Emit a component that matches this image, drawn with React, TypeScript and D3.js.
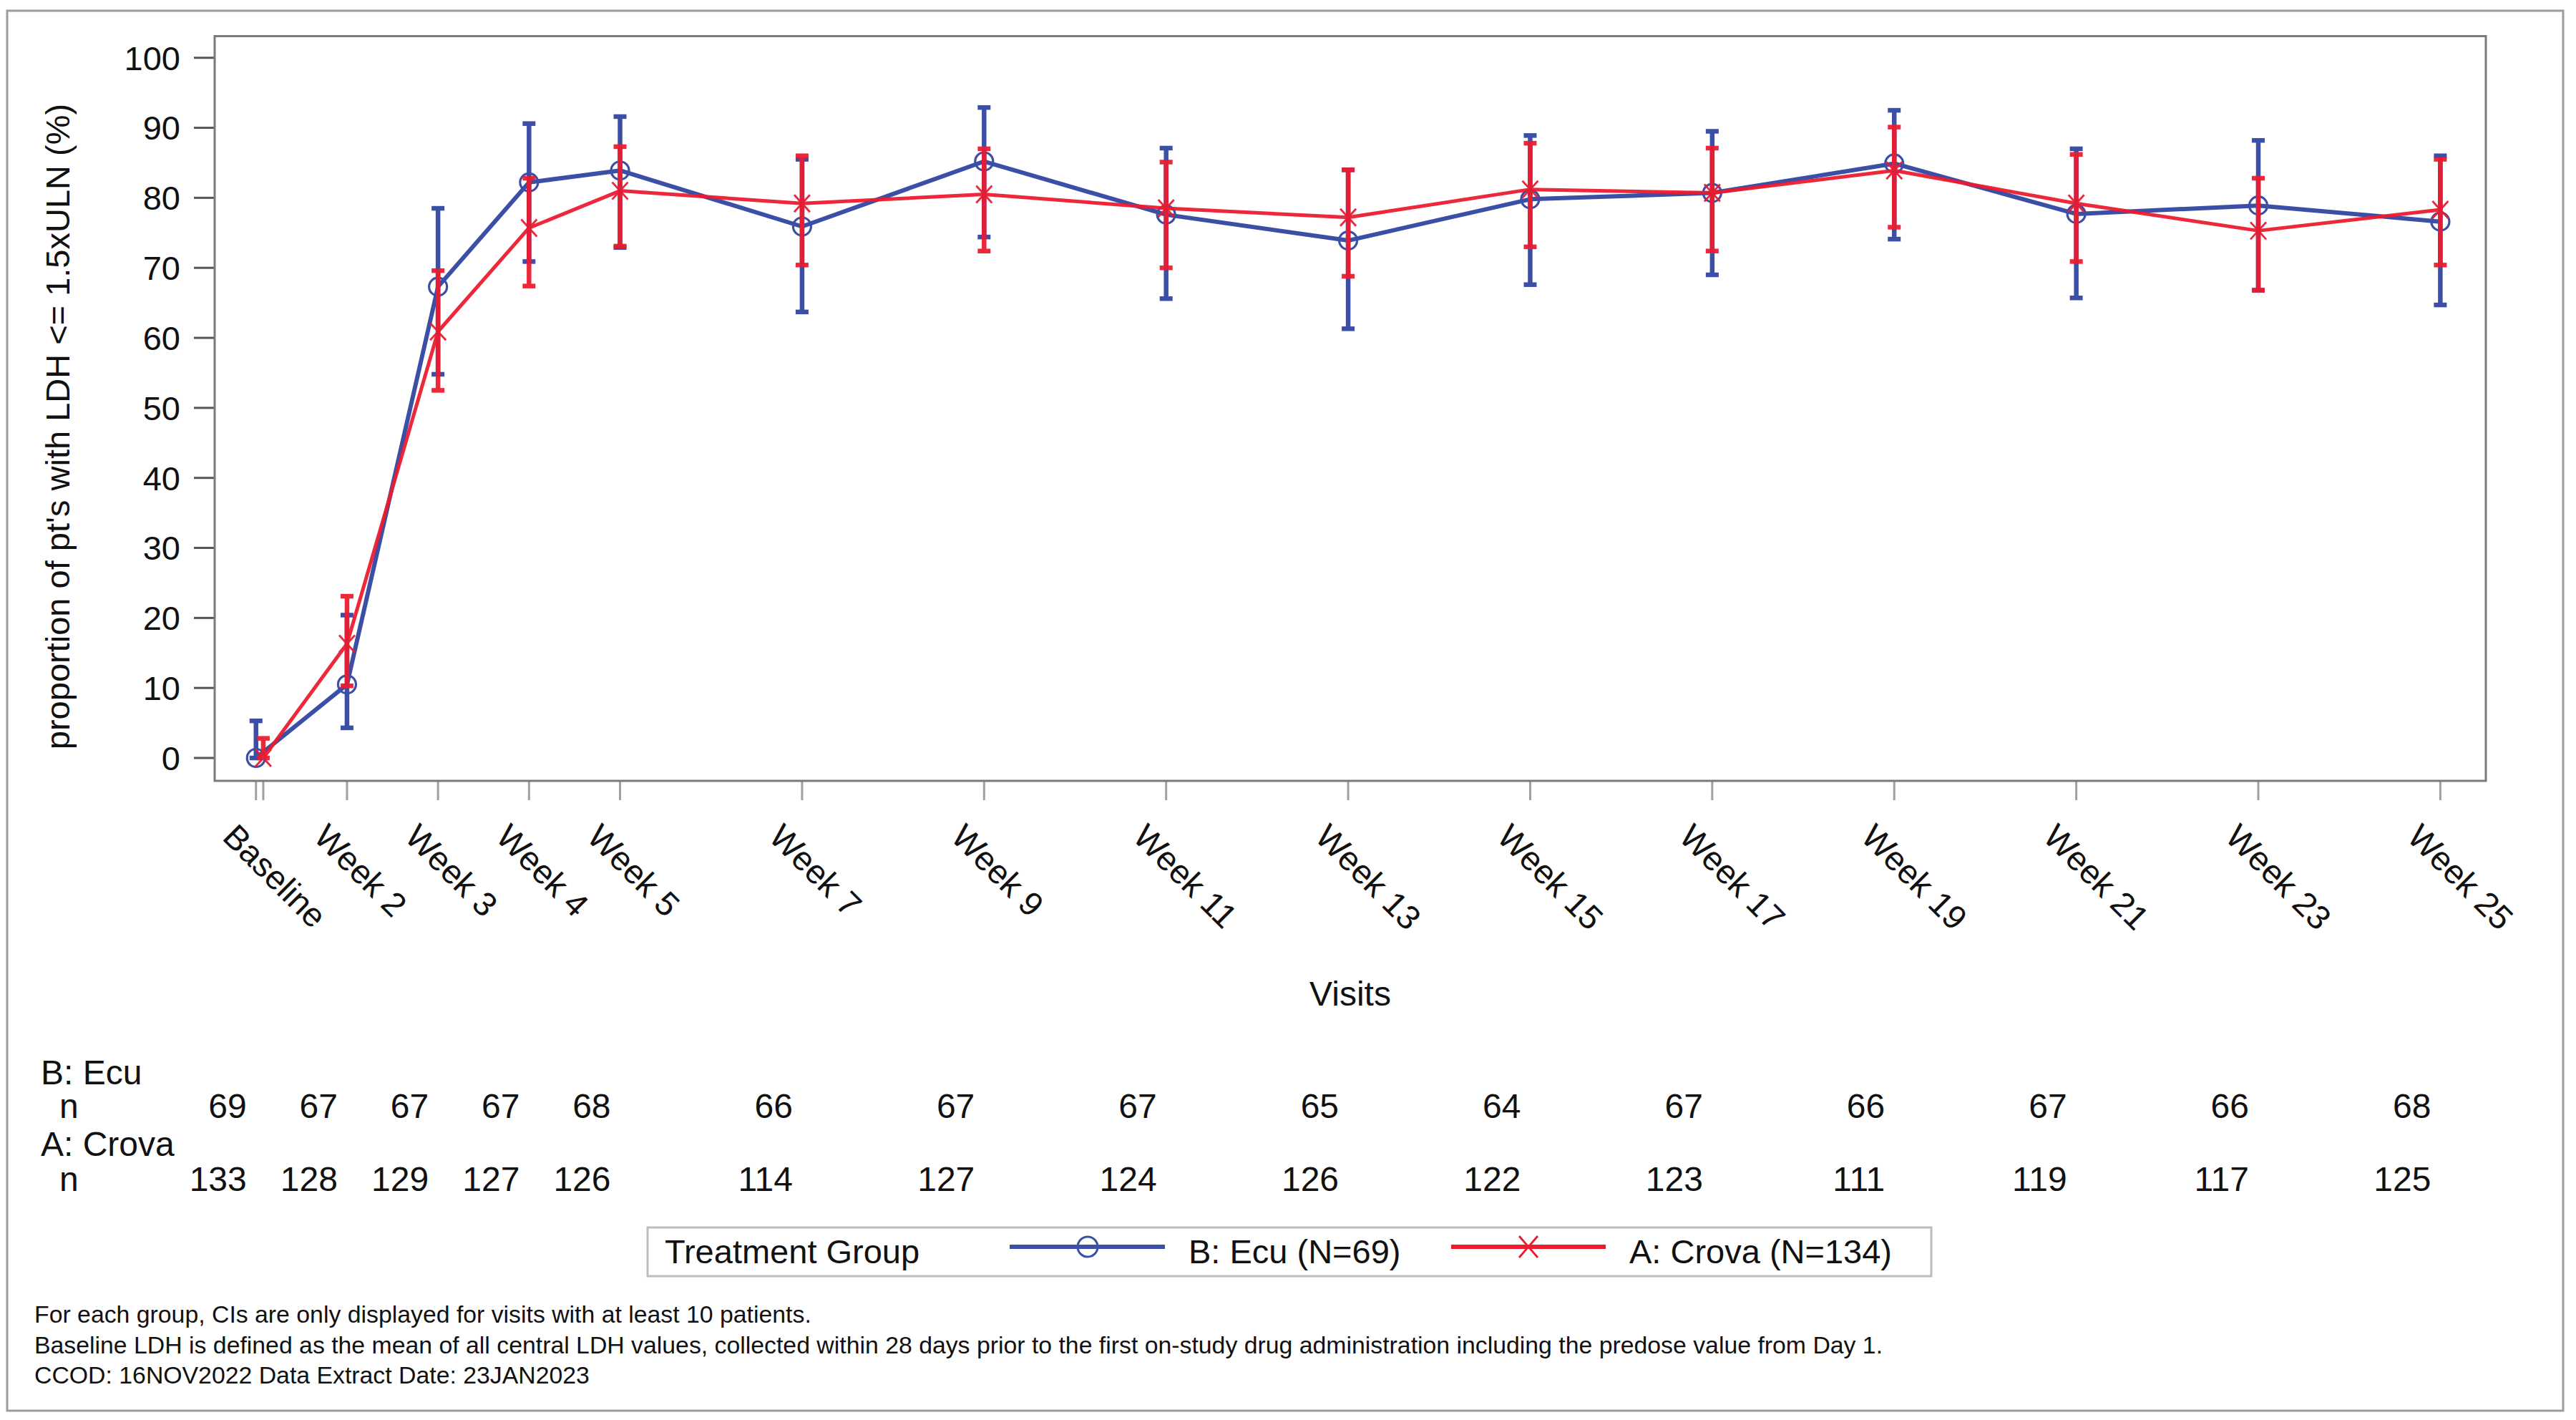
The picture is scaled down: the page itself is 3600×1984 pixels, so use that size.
import * as d3 from 'd3';

// visits on the x axis (numeric week scale, baseline of the two arms slightly apart)
const visits = ['Baseline', 'Week 2', 'Week 3', 'Week 4', 'Week 5', 'Week 7', 'Week 9', 'Week 11', 'Week 13', 'Week 15', 'Week 17', 'Week 19', 'Week 21', 'Week 23', 'Week 25'];
const weekEcu = [1, 2, 3, 4, 5, 7, 9, 11, 13, 15, 17, 19, 21, 23, 25];
const weekCrova = [1.08, 2, 3, 4, 5, 7, 9, 11, 13, 15, 17, 19, 21, 23, 25];

// B: Ecu, proportion (%) and 95% CI
const ecuPct = [0, 10.5, 67.3, 82.2, 83.9, 75.9, 85.2, 77.6, 73.9, 79.8, 80.7, 84.9, 77.7, 78.9, 76.6];
const ecuLow = [0, 4.3, 54.8, 70.9, 72.9, 63.7, 74.4, 65.6, 61.3, 67.6, 69.0, 74.1, 65.7, 66.8, 64.7];
const ecuHigh = [5.3, 20.4, 78.5, 90.6, 91.6, 85.5, 92.9, 87.1, 84.0, 88.9, 89.5, 92.5, 87.0, 88.2, 86.0];

// A: Crova, proportion (%) and 95% CI
const crovaPct = [0, 16.3, 60.9, 75.7, 81.0, 79.2, 80.5, 78.5, 77.2, 81.2, 80.7, 83.9, 79.2, 75.3, 78.3];
const crovaLow = [0, 10.3, 52.5, 67.4, 73.1, 70.4, 72.4, 70.0, 68.8, 73.0, 72.4, 75.8, 70.9, 66.8, 70.4];
const crovaHigh = [2.8, 23.1, 69.6, 82.8, 87.3, 86.0, 87.0, 85.1, 84.0, 87.8, 87.1, 90.1, 86.2, 82.8, 85.5];

// patients at risk
const ecuN = [69, 67, 67, 67, 68, 66, 67, 67, 65, 64, 67, 66, 67, 66, 68];
const crovaN = [133, 128, 129, 127, 126, 114, 127, 124, 126, 122, 123, 111, 119, 117, 125];

const yTicks = [0, 10, 20, 30, 40, 50, 60, 70, 80, 90, 100];

const footnotes = [
  'For each group, CIs are only displayed for visits with at least 10 patients.',
  'Baseline LDH is defined as the mean of all central LDH values, collected within 28 days prior to the first on-study drug administration including the predose value from Day 1.',
  'CCOD: 16NOV2022 Data Extract Date: 23JAN2023',
];

const W = 3600;
const H = 1984;
const FONT = "'Liberation Sans', Arial, Helvetica, sans-serif";
const BLUE = '#3c4fa6';
const RED = '#ec1b2e';
const TEXT = '#111';

export default function App() {
  const x = d3.scaleLinear().domain([0.546, 25.5]).range([300, 3474]);
  const y = d3.scaleLinear().domain([-3.27, 103.09]).range([1091, 50.5]);

  const line = d3.line<[number, number]>()
    .x(d => x(d[0]))
    .y(d => y(d[1]));

  const ecuPts = weekEcu.map((w, i) => [w, ecuPct[i]] as [number, number]);
  const crovaPts = weekCrova.map((w, i) => [w, crovaPct[i]] as [number, number]);

  const [x0, x1] = x.range();
  const [yb, yt] = y.range();
  const tickXs = Array.from(new Set([...weekEcu, ...weekCrova])).sort((a, b) => a - b);

  const errorBar = (wx: number, lo: number, hi: number, color: string, key: string) => {
    const cx = x(wx);
    return (
      <g key={key} stroke={color} strokeWidth={6.5}>
        <line x1={cx} x2={cx} y1={y(lo)} y2={y(hi)} />
        <line x1={cx - 9} x2={cx + 9} y1={y(hi)} y2={y(hi)} />
        <line x1={cx - 9} x2={cx + 9} y1={y(lo)} y2={y(lo)} />
      </g>
    );
  };

  const xMark = (cx: number, cy: number, sx: number, sy: number, key: string) => (
    <path key={key} d={`M${cx - sx},${cy - sy}L${cx + sx},${cy + sy}M${cx - sx},${cy + sy}L${cx + sx},${cy - sy}`}
      stroke={RED} strokeWidth={2.8} fill="none" />
  );

  return (
    <svg width={W} height={H} style={{ position: 'absolute', left: 0, top: 0, background: '#fff' }}
      fontFamily={FONT}>
      <rect x={0} y={0} width={W} height={H} fill="#fff" />
      <rect x={10} y={15} width={3572} height={1956} fill="none" stroke="#9c9c9c" strokeWidth={3} />

      {/* y axis */}
      {yTicks.map(t => (
        <g key={t}>
          <line x1={271} x2={x0} y1={y(t)} y2={y(t)} stroke="#555" strokeWidth={3} />
          <text x={252} y={y(t)} dy="0.36em" textAnchor="end" fontSize={47} fill={TEXT}>{t}</text>
        </g>
      ))}
      <text transform={`translate(97,596) rotate(-90)`} textAnchor="middle" fontSize={47} fill={TEXT}>
        proportion of pt's with LDH &lt;= 1.5xULN (%)
      </text>

      {/* x axis */}
      {tickXs.map(w => (
        <line key={w} x1={x(w)} x2={x(w)} y1={yb} y2={yb + 27} stroke="#a0a0a0" strokeWidth={3} />
      ))}
      {visits.map((v, i) => (
        <text key={v} transform={`translate(${x(weekEcu[i]) - 37},1160) rotate(45)`} dy="0.35em"
          fontSize={47} fill={TEXT}>{v}</text>
      ))}
      <text x={(x0 + x1) / 2} y={1405} textAnchor="middle" fontSize={48} fill={TEXT}>Visits</text>

      {/* plot frame */}
      <rect x={x0} y={yt} width={x1 - x0} height={yb - yt} fill="none" stroke="#7a7a7a" strokeWidth={3} />

      {/* B: Ecu */}
      <g>
        {weekEcu.map((w, i) => errorBar(w, ecuLow[i], ecuHigh[i], BLUE, `eb${i}`))}
        <path d={line(ecuPts) ?? ''} fill="none" stroke={BLUE} strokeWidth={6} strokeLinejoin="round" />
        {ecuPts.map((p, i) => (
          <circle key={i} cx={x(p[0])} cy={y(p[1])} r={12.5} fill="none" stroke={BLUE} strokeWidth={3.2} />
        ))}
      </g>

      {/* A: Crova */}
      <g opacity={0.94}>
        {weekCrova.map((w, i) => errorBar(w, crovaLow[i], crovaHigh[i], RED, `ea${i}`))}
        <path d={line(crovaPts) ?? ''} fill="none" stroke={RED} strokeWidth={5} strokeLinejoin="round" />
        {crovaPts.map((p, i) => xMark(x(p[0]), y(p[1]), 11, 12, `xa${i}`))}
      </g>

      {/* at-risk table */}
      <text x={57} y={1515} fontSize={48} fill={TEXT}>B: Ecu</text>
      <text x={83} y={1562} fontSize={48} fill={TEXT}>n</text>
      <text x={57} y={1615} fontSize={48} fill={TEXT}>A: Crova</text>
      <text x={83} y={1664} fontSize={48} fill={TEXT}>n</text>
      {ecuN.map((n, i) => (
        <text key={`nb${i}`} x={x(weekEcu[i]) - 13} y={1562} textAnchor="end" fontSize={48} fill={TEXT}>{n}</text>
      ))}
      {crovaN.map((n, i) => (
        <text key={`na${i}`} x={x(weekEcu[i]) - 13} y={1664} textAnchor="end" fontSize={48} fill={TEXT}>{n}</text>
      ))}

      {/* legend */}
      <rect x={905} y={1715} width={1794} height={68} fill="#fff" stroke="#bdbdbd" strokeWidth={3} />
      <text x={929} y={1765} fontSize={47} fill={TEXT}>Treatment Group</text>
      <line x1={1411} x2={1628} y1={1742} y2={1742} stroke={BLUE} strokeWidth={6} />
      <circle cx={1520} cy={1742} r={14} fill="none" stroke={BLUE} strokeWidth={3} />
      <text x={1661} y={1765} fontSize={47} fill={TEXT}>B: Ecu (N=69)</text>
      <line x1={2028} x2={2244} y1={1742} y2={1742} stroke={RED} strokeWidth={6} />
      {xMark(2136, 1742, 13, 15, 'legx')}
      <text x={2277} y={1765} fontSize={47} fill={TEXT}>A: Crova (N=134)</text>

      {/* footnotes */}
      {footnotes.map((f, i) => (
        <text key={i} x={48} y={1848 + i * 42.5} fontSize={33.8} fill={TEXT}>{f}</text>
      ))}
    </svg>
  );
}
